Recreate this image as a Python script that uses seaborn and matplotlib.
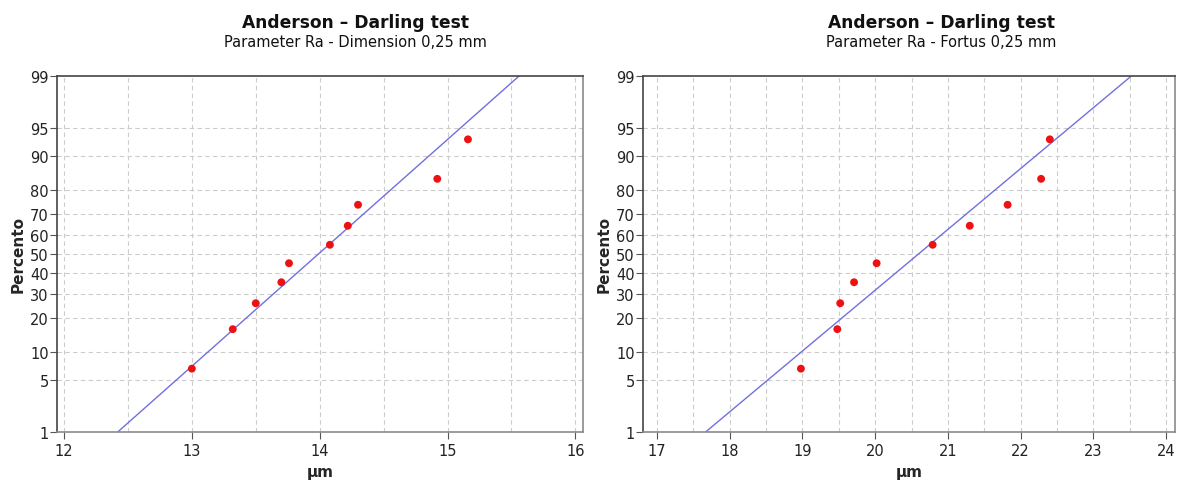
import numpy as np
import pandas as pd
import matplotlib
matplotlib.use("Agg")
import matplotlib.pyplot as plt
import seaborn as sns
from statistics import NormalDist

# Data (Ra values in micrometres)
percent = [6.7, 16.3, 26.0, 35.6, 45.2, 54.8, 64.4, 74.0, 83.7, 93.3]
ra_dimension = [13.00, 13.32, 13.50, 13.70, 13.76, 14.08, 14.22, 14.30, 14.92, 15.16]
ra_fortus = [18.98, 19.48, 19.52, 19.71, 20.02, 20.79, 21.30, 21.82, 22.28, 22.40]

# Fitted normal line end points (x at 1 % and 99 %)
fit_percent = [1, 99]
fit_dimension = [12.42, 15.56]
fit_fortus = [17.67, 23.52]

y_ticks = [1, 5, 10, 20, 30, 40, 50, 60, 70, 80, 90, 95, 99]
x_ticks_dim = [12, 13, 14, 15, 16]
x_ticks_fort = [17, 18, 19, 20, 21, 22, 23, 24]

subtitles = ["Parameter Ra - Dimension 0,25 mm", "Parameter Ra - Fortus 0,25 mm"]

nd = NormalDist()
_ppf = np.vectorize(nd.inv_cdf, otypes=[float])
_cdf = np.vectorize(nd.cdf, otypes=[float])


def prob_fwd(p):
    p = np.clip(np.asarray(p, dtype=float) / 100.0, 1e-6, 1 - 1e-6)
    return _ppf(p)


def prob_inv(z):
    return _cdf(np.asarray(z, dtype=float)) * 100.0


sns.set_style("white")
plt.rcParams['font.family'] = ['DejaVu Sans']

fig = plt.figure(figsize=(11.85, 4.89), dpi=100)
ax1 = fig.add_axes([57 / 1185, 1 - 433 / 489, 526 / 1185, 356 / 489])
ax2 = fig.add_axes([643 / 1185, 1 - 433 / 489, 532 / 1185, 356 / 489])

panels = [
    (ax1, ra_dimension, fit_dimension, x_ticks_dim, (11.945, 16.06), 355),
    (ax2, ra_fortus, fit_fortus, x_ticks_fort, (16.81, 24.12), 941),
]

for i, (ax, xs, fit_x, xt, xlim, title_x) in enumerate(panels):
    df = pd.DataFrame({"um": xs, "pct": percent})
    ax.set_yscale("function", functions=(prob_fwd, prob_inv))
    ax.set_ylim(1, 99)
    ax.set_xlim(*xlim)

    # grid
    for gx in np.arange(xt[0], xt[-1] + 0.01, 0.5):
        ax.axvline(gx, color="#cccccc", lw=0.8, ls=(0, (4, 3)), zorder=0)
    for gy in y_ticks[1:-1]:
        ax.axhline(gy, color="#cccccc", lw=0.8, ls=(0, (4, 3)), zorder=0)

    sns.lineplot(x=fit_x, y=fit_percent, ax=ax, color="#7070e0", lw=1.0,
                 sort=False, zorder=2)
    sns.scatterplot(data=df, x="um", y="pct", ax=ax, color="#ee1111", s=32,
                    edgecolor="none", zorder=3)

    ax.set_xticks(xt)
    ax.set_xticklabels([str(t) for t in xt])
    ax.set_yticks(y_ticks)
    ax.set_yticklabels([str(t) for t in y_ticks])
    ax.yaxis.set_minor_locator(matplotlib.ticker.NullLocator())
    ax.tick_params(axis="both", which="major", length=5, width=0.8,
                   color="#555555", labelsize=10.5, labelcolor="#222222",
                   direction="out", left=True, bottom=True)
    ax.tick_params(axis="x", pad=3)
    ax.tick_params(axis="y", pad=1)
    for side, col in [("top", "#444444"), ("left", "#444444"),
                      ("right", "#8a8a8a"), ("bottom", "#8a8a8a")]:
        ax.spines[side].set_visible(True)
        ax.spines[side].set_color(col)
        ax.spines[side].set_linewidth(1.2)

    ax.set_xlabel("µm", fontsize=11, fontweight="bold", labelpad=4)
    ax.set_ylabel("Percento", fontsize=11, fontweight="bold", labelpad=3)

    fig.text(title_x / 1185, 1 - 28 / 489, "Anderson – Darling test",
             ha="center", va="baseline", fontsize=12.3, fontweight="bold",
             color="#111111")
    fig.text(title_x / 1185, 1 - 47 / 489, subtitles[i],
             ha="center", va="baseline", fontsize=10.5, color="#111111")

fig.savefig("out.png", dpi=100)
